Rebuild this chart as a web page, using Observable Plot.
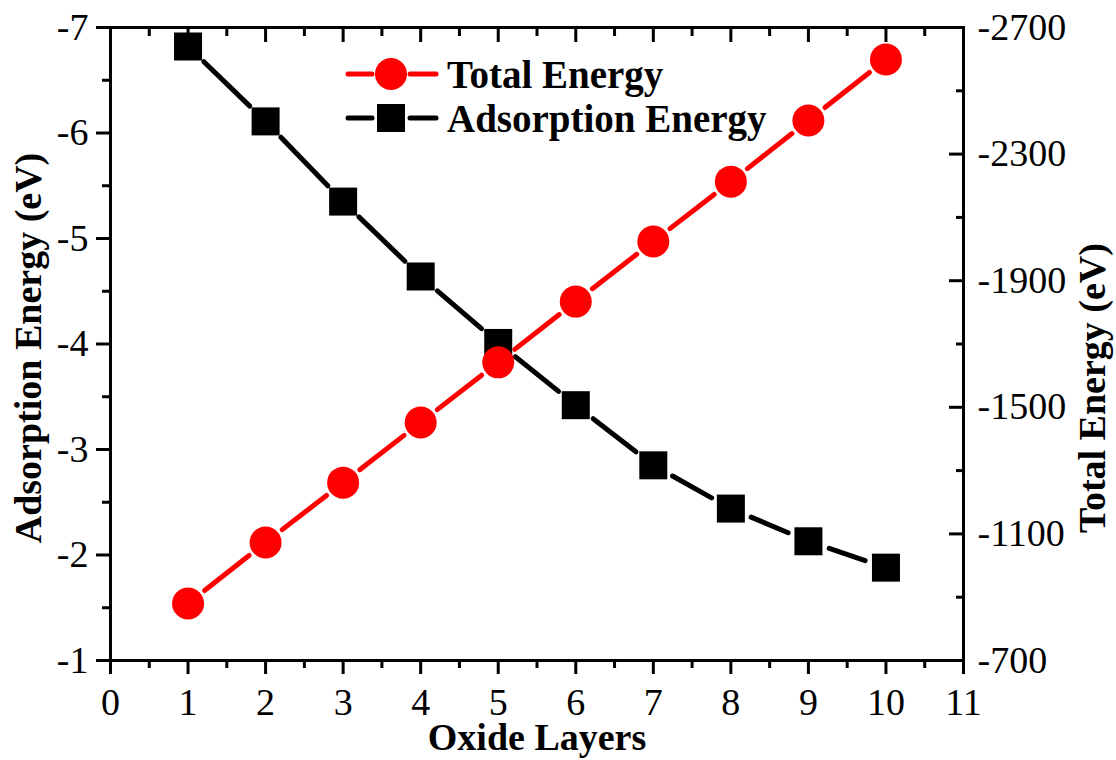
<!DOCTYPE html>
<html>
<head>
<meta charset="utf-8">
<script src="https://cdn.jsdelivr.net/npm/d3@7"></script>
<script src="https://cdn.jsdelivr.net/npm/@observablehq/plot@0.6"></script>
<style>
  html, body { margin: 0; padding: 0; background: #fff; }
  #wrap { position: relative; width: 1116px; height: 760px; }
  #legend { position: absolute; left: 345px; top: 52px; font-family: "Liberation Serif", serif; font-weight: bold; font-size: 39px; color: #000; }
  #legend .row { display: flex; align-items: center; height: 44px; }
  #legend svg { margin-right: 8px; }
</style>
</head>
<body>
<div id="wrap">
  <div id="chart"></div>
  <div id="legend"></div>
</div>
<script>
// ---- data ----
const layers = [1, 2, 3, 4, 5, 6, 7, 8, 9, 10];
const adsorptionEnergy = [-6.82, -6.11, -5.35, -4.64, -4.01, -3.42, -2.85, -2.44, -2.13, -1.88];
const totalEnergy = [-880, -1073, -1262, -1452, -1642, -1834, -2024, -2213, -2406, -2599];
const xTicks = [0, 1, 2, 3, 4, 5, 6, 7, 8, 9, 10, 11];
const xMinorTicks = [0.5, 1.5, 2.5, 3.5, 4.5, 5.5, 6.5, 7.5, 8.5, 9.5, 10.5];
const leftTicks = [-7, -6, -5, -4, -3, -2, -1];
const leftMinorTicks = [-6.5, -5.5, -4.5, -3.5, -2.5, -1.5];
const rightTicks = [-2700, -2300, -1900, -1500, -1100, -700];
const rightMinorTicks = [-2500, -2100, -1700, -1300, -900];
const seriesNames = ["Total Energy", "Adsorption Energy"];
const seriesColors = ["#ff0000", "#000000"];

// right axis (total energy) mapped onto the left y scale
const leftDomain = [-1, -7];
const rightDomain = [-700, -2700];
const toLeft = v => leftDomain[0] + (v - rightDomain[0]) * (leftDomain[1] - leftDomain[0]) / (rightDomain[1] - rightDomain[0]);
const toRight = v => rightDomain[0] + (v - leftDomain[0]) * (rightDomain[1] - rightDomain[0]) / (leftDomain[1] - leftDomain[0]);

const ads = layers.map((x, i) => ({x, y: adsorptionEnergy[i]}));
const tot = layers.map((x, i) => ({x, y: toLeft(totalEnergy[i])}));
const segs = pts => pts.slice(1).map((p, i) => ({x1: pts[i].x, y1: pts[i].y, x2: p.x, y2: p.y}));

const axisStyle = {stroke: "#000", strokeWidth: 3};
const tickFont = 38;
const titleFont = 38;

const chart = Plot.plot({
  width: 1116,
  height: 760,
  marginLeft: 110,
  marginRight: 153,
  marginTop: 27,
  marginBottom: 100,
  style: {fontFamily: "Liberation Serif, serif", fontSize: tickFont + "px", color: "#000", background: "#fff"},
  x: {domain: [0, 11], axis: null},
  y: {domain: leftDomain, axis: null},
  marks: [
    // bottom axis
    Plot.axisX({anchor: "bottom", ticks: xTicks, tickSize: 14, tickPadding: 14, tickFormat: d => String(d), label: null, ...axisStyle, fontSize: tickFont}),
    Plot.axisX({anchor: "bottom", ticks: xMinorTicks, tickSize: 8, tickFormat: () => "", label: null, ...axisStyle}),
    // top axis (inward ticks)
    Plot.axisX({anchor: "top", ticks: xTicks, tickSize: -14, tickFormat: () => "", label: null, ...axisStyle}),
    Plot.axisX({anchor: "top", ticks: xMinorTicks, tickSize: -8, tickFormat: () => "", label: null, ...axisStyle}),
    // left axis
    Plot.axisY({anchor: "left", ticks: leftTicks, tickSize: 14, tickPadding: 8, tickFormat: d => String(d), label: null, ...axisStyle, fontSize: tickFont}),
    Plot.axisY({anchor: "left", ticks: leftMinorTicks, tickSize: 8, tickFormat: () => "", label: null, ...axisStyle}),
    // right axis (inward ticks)
    Plot.axisY({anchor: "right", ticks: rightTicks.map(toLeft), tickSize: -15, tickFormat: () => "", label: null, ...axisStyle}),
    Plot.axisY({anchor: "right", ticks: rightMinorTicks.map(toLeft), tickSize: -8, tickFormat: () => "", label: null, ...axisStyle}),
    Plot.axisY({anchor: "right", ticks: rightTicks.map(toLeft), tickSize: 0, tickPadding: 14, tickFormat: d => String(Math.round(toRight(d))), label: null, fill: "#000", fontSize: tickFont}),
    Plot.frame({stroke: "#000", strokeWidth: 3}),
    // axis titles
    Plot.text(["Oxide Layers"], {frameAnchor: "bottom", dy: 77, lineAnchor: "middle", textAnchor: "middle", fontWeight: "bold", fontSize: titleFont, fill: "#000"}),
    Plot.text(["Adsorption Energy (eV)"], {frameAnchor: "left", dx: -82, dy: 4, rotate: -90, lineAnchor: "middle", textAnchor: "middle", fontWeight: "bold", fontSize: titleFont, fill: "#000"}),
    Plot.text(["Total Energy (eV)"], {frameAnchor: "right", dx: 129, dy: 44, rotate: -90, lineAnchor: "middle", textAnchor: "middle", fontWeight: "bold", fontSize: titleFont, fill: "#000"}),
    // series lines with gaps at the markers
    Plot.arrow(segs(ads), {x1: "x1", y1: "y1", x2: "x2", y2: "y2", stroke: seriesColors[1], strokeWidth: 5, headLength: 0, insetStart: 22, insetEnd: 22}),
    Plot.arrow(segs(tot), {x1: "x1", y1: "y1", x2: "x2", y2: "y2", stroke: seriesColors[0], strokeWidth: 5, headLength: 0, insetStart: 21, insetEnd: 21}),
    Plot.dot(ads, {x: "x", y: "y", symbol: "square", r: 15.8, fill: seriesColors[1], stroke: "none"}),
    Plot.dot(tot, {x: "x", y: "y", symbol: "circle", r: 16, fill: seriesColors[0], stroke: "none"})
  ]
});
document.getElementById("chart").appendChild(chart);

// legend
const legend = document.getElementById("legend");
const symbols = ["circle", "square"];
seriesNames.forEach((name, i) => {
  const row = document.createElement("div");
  row.className = "row";
  const c = seriesColors[i];
  const mark = symbols[i] === "circle"
    ? `<circle cx="46" cy="22" r="16" fill="${c}"/>`
    : `<rect x="32" y="8" width="28" height="28" fill="${c}"/>`;
  row.innerHTML = `<svg width="94" height="44"><line x1="3" y1="22" x2="27" y2="22" stroke="${c}" stroke-width="5" stroke-linecap="round"/><line x1="65" y1="22" x2="91" y2="22" stroke="${c}" stroke-width="5" stroke-linecap="round"/>${mark}</svg><span>${name}</span>`;
  legend.appendChild(row);
});
</script>
</body>
</html>
